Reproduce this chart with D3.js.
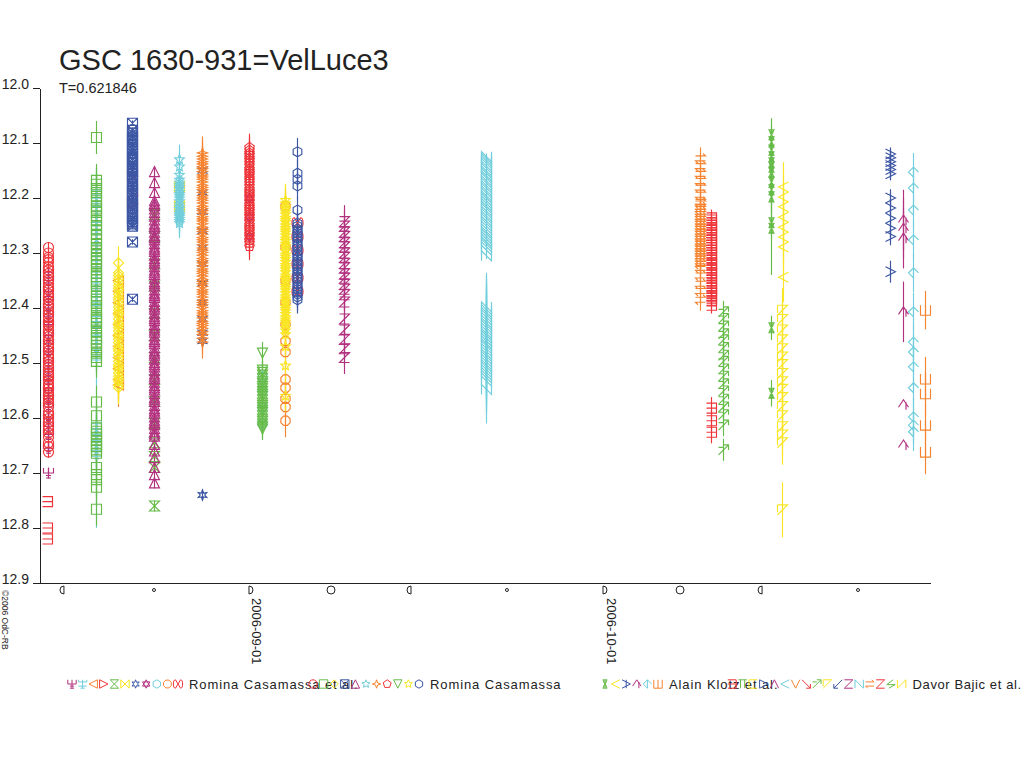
<!DOCTYPE html>
<html><head><meta charset="utf-8">
<script src="https://cdn.jsdelivr.net/npm/d3@7"></script>
<style>
body{margin:0;background:#fff}
svg text{font-family:"Liberation Sans",Arial,sans-serif;fill:#222}
</style>
</head><body>
<svg id="c" width="1024" height="768"></svg>
<script>
// ---------------- data ----------------
const titleText = "GSC 1630-931=VelLuce3";
const periodText = "T=0.621846";
const copyrightText = "\u00A92006 OdC-RB";
const yTicks = [12.0, 12.1, 12.2, 12.3, 12.4, 12.5, 12.6, 12.7, 12.8, 12.9];
const dateTicks = ["2006-09-01", "2006-10-01"];
// days after 2006-09-01 00:00 UT
const moonDays = [-16.02, -8.22, 0, 6.78, 13.39, 21.69, 30.0, 36.36, 43.14, 51.44];
const moonPhases = ["last", "new", "first", "full", "last", "new", "first", "full", "last", "new"];
const observerNames = ["Romina Casamassa et al.", "Romina Casamassa", "Alain Klotz et al.", "Davor Bajic et al."];

// each entry = list of nights: [day, error, [magnitudes]]
const romEtAlData = [
  [[-17.2, 0.01, [12.335,12.35,12.37,12.385,12.40,12.415,12.43,12.45,12.465,12.48,12.50,12.515,12.53,12.55,12.565,12.58,12.60,12.615,12.63,12.655,12.70]]],
  [[-13.12, 0.045, [12.19,12.205,12.22,12.24,12.255,12.27,12.29,12.31,12.33,12.35,12.37,12.385,12.40,12.42,12.44,12.455,12.47,12.49,12.615,12.625,12.635,12.645,12.655]], [-13.12, 0.135, [12.665]]],
  [[-11.27, 0.04, [12.35,12.37,12.39,12.41,12.43,12.45,12.47,12.49,12.51,12.53,12.54]]],
  [[-10.1, 0.01, [12.16,12.195,12.21]]],
  [[-8.2, 0.01, [12.23,12.27,12.32,12.36,12.41,12.45,12.49,12.53,12.57,12.61,12.645,12.67,12.69,12.76]]],
  [[-6.1, 0.01, [12.18,12.215]]],
  [[-4.15, 0.01, [12.15,12.19,12.225,12.26,12.29,12.32,12.355,12.39,12.42,12.445,12.46,12.74]]],
  [[-0.17, 0.01, [12.2,12.235,12.27]]],
  [[0.93, 0.01, [12.525,12.55,12.58,12.61]]],
  [[2.88, 0.03, [12.215,12.29,12.35,12.39,12.43,12.46,12.48,12.53,12.545,12.565,12.58,12.605]]],
  [[3.9, 0.01, [12.245,12.27,12.295,12.32,12.345,12.37]]]
];
const romData = [
  [[-17.2, 0.01, [12.29,12.308,12.317,12.331,12.342,12.349,12.361,12.374,12.38,12.393,12.404,12.411,12.426,12.433,12.447,12.452,12.466,12.478,12.485,12.497,12.503,12.519,12.524,12.538,12.546,12.553,12.567,12.572,12.589,12.594,12.608,12.615,12.627,12.645,12.662,
    12.30,12.312,12.325,12.337,12.355,12.367,12.386,12.398,12.418,12.43,12.44,12.459,12.471,12.49,12.508,12.514,12.531,12.541,12.559,12.563,12.58,12.601,12.62,12.635,12.652]]],
  [[-13.12, 0.03, [12.09,12.168,12.183,12.197,12.214,12.226,12.241,12.258,12.266,12.283,12.296,12.31,12.322,12.337,12.349,12.361,12.378,12.389,12.402,12.417,12.428,12.443,12.456,12.468,12.482,12.497,12.571,12.596,12.618,12.629,12.641,12.652,12.664,12.69,12.703,12.712,12.726,12.766,
    12.175,12.19,12.205,12.22,12.234,12.25,12.274,12.29,12.303,12.316,12.33,12.343,12.355,12.37,12.384,12.396,12.41,12.422,12.436,12.45,12.462,12.475,12.49,12.624,12.635,12.647,12.658]]],
  [[-11.27, 0.03, [12.318,12.336,12.347,12.359,12.368,12.381,12.392,12.404,12.413,12.427,12.436,12.448,12.457,12.469,12.478,12.491,12.503,12.512,12.524,12.533,12.545,
    12.341,12.353,12.364,12.375,12.386,12.398,12.409,12.42,12.431,12.442,12.452,12.463,12.474,12.485,12.497,12.507,12.518,12.529,12.54]]],
  [[-10.1, 0.005, [12.064,12.082,12.091,12.103,12.112,12.124,12.131,12.143,12.152,12.161,12.174,12.183,12.192,12.205,12.213,12.224,12.232,12.243,12.251,12.28,12.384,
    12.077,12.087,12.097,12.108,12.118,12.128,12.137,12.148,12.157,12.168,12.178,12.188,12.198,12.209,12.218,12.228,12.238,12.247]]],
  [[-8.2, 0.01, [12.152,12.172,12.19,12.205,12.214,12.226,12.233,12.247,12.255,12.268,12.276,12.289,12.297,12.31,12.318,12.331,12.339,12.352,12.36,12.373,12.381,12.394,12.402,12.415,12.423,12.436,12.444,12.457,12.465,12.478,12.486,12.499,12.507,12.52,12.528,12.541,12.549,12.562,12.57,12.583,12.591,12.604,12.612,12.625,12.633,12.648,12.66,12.672,12.69,12.703,12.718,
    12.21,12.22,12.24,12.251,12.262,12.272,12.283,12.293,12.304,12.314,12.325,12.335,12.346,12.356,12.367,12.377,12.388,12.398,12.409,12.419,12.43,12.44,12.451,12.461,12.472,12.482,12.493,12.503,12.514,12.524,12.535,12.545,12.556,12.566,12.577,12.587,12.598,12.608,12.619,12.629]]],
  [[-6.1, 0.027, [12.13,12.143,12.158,12.167,12.176,12.184,12.193,12.201,12.212,12.22,12.229,12.238,12.246,12.232,
    12.172,12.18,12.189,12.197,12.206,12.216,12.225,12.234,12.242]]],
  [[-4.15, 0.03, [12.118,12.129,12.138,12.147,12.158,12.166,12.177,12.185,12.196,12.204,12.215,12.223,12.234,12.242,12.253,12.261,12.272,12.28,12.291,12.299,12.31,12.318,12.329,12.337,12.348,12.356,12.367,12.375,12.386,12.394,12.405,12.413,12.424,12.432,12.443,12.455,12.462,
    12.124,12.134,12.143,12.152,12.162,12.171,12.181,12.19,12.2,12.209,12.219,12.228,12.238,12.247,12.257,12.266,12.276,12.285,12.295,12.304,12.314,12.323,12.333,12.342,12.352,12.361,12.371,12.38,12.39,12.399,12.409,12.418,12.428,12.437,12.448]]],
  [[-0.17, 0.025, [12.108,12.118,12.127,12.136,12.147,12.155,12.164,12.173,12.184,12.192,12.201,12.212,12.22,12.229,12.238,12.249,12.257,12.266,12.277,12.288,
    12.113,12.122,12.131,12.141,12.151,12.159,12.168,12.178,12.188,12.196,12.206,12.216,12.224,12.233,12.243,12.253,12.261,12.271,12.282]]],
  [[0.93, 0.02, [12.482,12.513,12.522,12.534,12.543,12.552,12.561,12.573,12.581,12.59,12.602,12.611,12.62,
    12.517,12.528,12.538,12.547,12.557,12.567,12.577,12.586,12.596,12.606,12.616]]],
  [[2.88, 0.03, [12.204,12.216,12.225,12.236,12.244,12.255,12.263,12.274,12.283,12.292,12.303,12.311,12.322,12.33,12.341,12.349,12.36,12.368,12.379,12.387,12.398,12.406,12.417,12.425,12.436,12.448,12.47,12.505,12.56,
    12.21,12.22,12.23,12.24,12.25,12.259,12.268,12.278,12.287,12.297,12.307,12.316,12.326,12.335,12.345,12.354,12.364,12.373,12.383,12.392,12.402,12.411,12.421,12.43,12.441]]],
  [[3.9, 0.025, [12.116,12.155,12.166,12.178,12.222,12.246,12.256,12.264,12.273,12.283,12.291,12.302,12.31,12.32,12.329,12.338,12.347,12.357,12.366,12.375,12.385,
    12.251,12.26,12.269,12.278,12.287,12.297,12.306,12.315,12.325,12.334,12.343,12.352,12.362,12.371,12.38]]]
];
const klotzData = [
  [[44.07, 0.03, [12.085,12.098,12.113,12.125,12.136,12.144,12.153,12.171,12.185,12.198,12.245]], [44.07, 0.085, [12.255]], [44.07, 0.022, [12.436]], [44.07, 0.024, [12.555]]],
  [[45.1, 0.045, [12.18,12.198,12.216,12.235,12.253,12.271,12.289,12.344]]],
  [[54.15, 0.012, [12.12,12.127,12.134,12.141,12.148,12.156]], [54.15, 0.016, [12.2,12.218,12.237,12.255,12.27]], [54.15, 0.02, [12.334]]],
  [[55.25, 0.055, [12.24,12.255,12.273,12.407]], [55.25, 0, [12.576,12.649]]],
  [[56.1, 0.035, [12.153,12.182,12.222,12.276,12.336,12.407,12.462,12.48,12.507,12.545,12.598,12.613,12.625]]],
  [[57.12, 0.035, [12.404]], [57.12, 0.04, [12.529,12.556,12.613,12.662]]]
];
const bajicData = [
  [[-17.25, 0, [12.752,12.80,12.82]],
   [38.98, 0.015, [12.236,12.245,12.254,12.263,12.272,12.281,12.29,12.3,12.309,12.318,12.327,12.336,12.345,12.355,12.364,12.373,12.382,12.395,
     12.24,12.25,12.258,12.268,12.277,12.286,12.295,12.304,12.313,12.322,12.331,12.34,12.35,12.36,12.369,12.378,12.387]],
   [38.98, 0.02, [12.582,12.605,12.626]]],
  [], [], [], [], [], [], [],
  [[40.0, 0.02, [12.407,12.419,12.433,12.447,12.458,12.472,12.486,12.497,12.511,12.524,12.538,12.551,12.566,12.58,12.594,12.613,12.658]]],
  [[45.0, 0.04, [12.404,12.421,12.44,12.458,12.474,12.489,12.503,12.519,12.534,12.548,12.563,12.579,12.596,12.616,12.631,12.645]], [45.0, 0.05, [12.767]]],
  [],
  [[7.88, 0.03, [12.243,12.251,12.262,12.27,12.281,12.289,12.3,12.308,12.319,12.327,12.338,12.346,12.357,12.366,12.376,12.389,12.42,12.44,12.457,12.474,12.49]]],
  [[19.92, 0.006, [12.125,12.133,12.142,12.151,12.16,12.169,12.178,12.187,12.196,12.205,12.215,12.224,12.233,12.242,12.251,12.261,12.27,12.28,12.289,12.305,
     12.129,12.137,12.146,12.155,12.164,12.173,12.182,12.191,12.2,12.21,12.219,12.228,12.237,12.246,12.256,12.265,12.275,12.284,12.295]],
   [19.92, 0.062, [12.398,12.408,12.417,12.427,12.436,12.446,12.455,12.465,12.474,12.484,12.493,12.503,12.512,12.522,12.533,12.548,
     12.403,12.412,12.422,12.431,12.441,12.45,12.46,12.469,12.479,12.488,12.498,12.507,12.517,12.527]]],
  [[38.05, 0.02, [12.128,12.142,12.156,12.169,12.181,12.194,12.207,12.216,12.225,12.234,12.243,12.252,12.261,12.27,12.279,12.288,12.297,12.306,12.315,12.327,12.341,12.356,12.369,12.385,
     12.21,12.22,12.229,12.238,12.247,12.256,12.265,12.274,12.283,12.292,12.301,12.31,12.32]]],
  [], [], []
];

// ---------------- styles ----------------
const C = {red:"#ee3338", green:"#66bb48", yellow:"#f9e522", blue:"#3c56a4", magenta:"#b2317f", cyan:"#70cddb", orange:"#f5832f"};
const groupColors = [
  [C.magenta,C.cyan,C.orange,C.red,C.green,C.yellow,C.blue,C.magenta,C.cyan,C.orange,C.red],
  [C.red,C.green,C.yellow,C.blue,C.magenta,C.cyan,C.orange,C.red,C.green,C.yellow,C.blue],
  [C.green,C.yellow,C.blue,C.magenta,C.cyan,C.orange],
  [C.red,C.green,C.yellow,C.blue,C.magenta,C.cyan,C.orange,C.red,C.green,C.yellow,C.blue,C.magenta,C.cyan,C.orange,C.red,C.green,C.yellow]
];
const groupSymbols = [
  ["trident","tridentBar","triLeft","triRight","hourglass","bowtie","asterisk","hexagram","hexagon","octagon","bowtieRound"],
  ["circle","square","diamond","squareX","triUp","star5","star4","pentagon","triDown","star5","hexagon"],
  ["eight","lt","gt","caret","ltCaret","cup"],
  ["bracketR","cap","bracketL","gtBar","lambda","lt","vee","arrowDR","arrowUR","corner","arrowDL","zed","en","harpoon","zed","bolt","enRev"]
];
const legendStart = [72, 313, 605, 732];
const legendSpacing = [0.9, 0.9, 0.9, 0.6];

function poly(n, r, rot) {
  let s = "";
  for (let i = 0; i < n; i++) {
    const a = rot + i * 2 * Math.PI / n;
    s += (i ? "L" : "M") + (r * Math.cos(a)).toFixed(2) + "," + (r * Math.sin(a)).toFixed(2);
  }
  return s + "Z";
}
function star(n, r1, r2) {
  let s = "";
  for (let i = 0; i < 2 * n; i++) {
    const a = -Math.PI / 2 + i * Math.PI / n, r = i % 2 ? r2 : r1;
    s += (i ? "L" : "M") + (r * Math.cos(a)).toFixed(2) + "," + (r * Math.sin(a)).toFixed(2);
  }
  return s + "Z";
}
function circ(cx, cy, r) {
  return `M${cx + r},${cy}A${r},${r} 0 1,1 ${cx - r},${cy}A${r},${r} 0 1,1 ${cx + r},${cy}Z`;
}
function symPath(n, r) {
  const q = r / 2;
  switch (n) {
    case "circle": return circ(0, 0, r);
    case "square": return `M${-r},${-r}H${r}V${r}H${-r}Z`;
    case "diamond": return `M0,${-r}L${r},0L0,${r}L${-r},0Z`;
    case "squareX": return `M${-r},${-r}H${r}V${r}H${-r}ZM${-r},${-r}L${r},${r}M${r},${-r}L${-r},${r}`;
    case "triUp": return `M0,${-r}L${r},${r}L${-r},${r}Z`;
    case "triDown": return `M0,${r}L${r},${-r}L${-r},${-r}Z`;
    case "triLeft": return `M${-r},0L${r},${-r}L${r},${r}Z`;
    case "triRight": return `M${r},0L${-r},${-r}L${-r},${r}Z`;
    case "hourglass": return `M${-r},${-r}H${r}L${-r},${r}H${r}Z`;
    case "bowtie": return `M${-r},${-r}V${r}L${r},${-r}V${r}Z`;
    case "asterisk": return star(6, r, r * 0.45);
    case "hexagram": return `M0,${-r}L${r * 0.87},${q}L${-r * 0.87},${q}ZM0,${r}L${r * 0.87},${-q}L${-r * 0.87},${-q}Z`;
    case "hexagon": return poly(6, r, Math.PI / 6);
    case "octagon": return poly(8, r, Math.PI / 8);
    case "pentagon": return poly(5, r, -Math.PI / 2);
    case "star5": return star(5, r, r * 0.45);
    case "star4": return star(4, r, r * 0.35);
    case "bowtieRound": return `M0,0L${-r * 0.6},${-r}A${r * 0.5},${r} 0 0,0 ${-r * 0.6},${r}ZM0,0L${r * 0.6},${-r}A${r * 0.5},${r} 0 0,1 ${r * 0.6},${r}Z`;
    case "trident": return `M${-r},${-r}V0H${r}V${-r}M0,${-r}V${r}M${-q},${r}H${q}M${-q},${q}H${q}`;
    case "tridentBar": return `M${-r},${-r}V${-q}H${r}V${-r}M0,${-r}V${r}M${-r},${q}H${r}M${-q},${r}H${q}`;
    case "eight": return `M${-q},${-r}H${q}L${-q},${r}H${q}Z` + circ(0, -q, q * 0.6) + circ(0, q, q * 0.6);
    case "lt": return `M${r},${-r}L${-r},0L${r},${r}`;
    case "gt": return `M${-r},${-r}L${r},0L${-r},${r}M0,${-r}V${r}`;
    case "caret": return `M${-r},${q}L0,${-r}L${r},${q}M${q},${-q}V${r}`;
    case "ltCaret": return `M0,${-r}L${-r},0L0,${r}M0,${-r}L${r},0M0,${-r}V${r}`;
    case "cup": return `M${-r},${-r}V${r}H${r}V${-r}M0,${-r}V${r}`;
    case "bracketR": return `M${-r},${-r}H${r}V${r}H${-r}M${-r},0H${r}`;
    case "cap": return `M${-r},${-r}H${r}M${-q},${-r}V${r}M${q},${-r}V${r}`;
    case "bracketL": return `M${r},${-r}H${-r}V${r}H${r}`;
    case "gtBar": return `M${-r},${-r}L${r},0L${-r},${r}M${-r},${-r}V${r}`;
    case "lambda": return `M${-r},${r}L0,${-r}L${r},${r}`;
    case "vee": return `M${-r},${-r}L0,${r}L${r},${-r}`;
    case "arrowDR": return `M${-r},${-r}L${r},${r}M${r},0V${r}H0`;
    case "arrowUR": return `M${-r},${r}L${r},${-r}M0,${-r}H${r}V0M${-r},${-q}H0`;
    case "corner": return `M${-r},${-r}H${r}L${-r},${r}M${-r},${-r}V${q}`;
    case "arrowDL": return `M${r},${-r}L${-r},${r}M${-r},0V${r}H0`;
    case "zed": return `M${-r},${-r}H${r}L${-r},${r}H${r}`;
    case "en": return `M${-r},${r}V${-r}L${r},${r}V${-r}`;
    case "harpoon": return `M${-r},${-q}H${r}L${q},${-r}M${r},${q}H${-r}L${-q},${r}`;
    case "bolt": return `M${q},${-r}L${-r},${q * 0.3}H${r}L${-q},${r}`;
    case "enRev": return `M${-r},${-r}V${r}L${r},${-r}V${r}`;
  }
  return circ(0, 0, r);
}

// ---------------- chart ----------------
const svg = d3.select("#c");
const base = Date.UTC(2006, 8, 1);
const toDate = d => new Date(base + d * 864e5);
const x = d3.scaleUtc().domain([toDate(-17.88), toDate(57.54)]).range([40, 930]);
const y = d3.scaleLinear().domain([12.0, 12.9]).range([88, 583]);

svg.append("rect").attr("width", 1024).attr("height", 768).attr("fill", "#fff");

// title
svg.append("text").attr("x", 59).attr("y", 70).attr("font-size", 29).text(titleText);
svg.append("text").attr("x", 59).attr("y", 93).attr("font-size", 14.5).text(periodText);

// y axis
const yAxis = svg.append("g").attr("transform", "translate(40,0)")
  .call(d3.axisLeft(y).tickValues(yTicks).tickSize(7).tickSizeOuter(0).tickFormat(d3.format(".1f")));
yAxis.attr("font-size", 14).attr("font-family", null).attr("color", "#222");
yAxis.selectAll("text").attr("x", -11).attr("dy", "0").attr("y", 0);
yAxis.selectAll("line,path").attr("shape-rendering", "crispEdges");

// x axis
const xAxis = svg.append("g").attr("transform", "translate(0,583)")
  .call(d3.axisBottom(x).tickValues(dateTicks.map(s => new Date(s + "T00:00:00Z")))
    .tickSize(0).tickSizeOuter(0).tickFormat(d3.utcFormat("%Y-%m-%d")));
xAxis.attr("font-size", 13).attr("font-family", null).attr("color", "#222");
xAxis.selectAll("text").attr("transform", "rotate(90)").attr("x", 15).attr("y", -1).attr("dy", "0").attr("text-anchor", "start");
xAxis.selectAll("path").attr("shape-rendering", "crispEdges");

// moon phase markers
const moon = svg.append("g").attr("fill", "none").attr("stroke", "#222").attr("stroke-width", 1);
moonDays.forEach((d, i) => {
  const p = moonPhases[i];
  let path;
  if (p === "full") path = circ(0, 0, 4);
  else if (p === "new") path = circ(0, 0, 1.5);
  else if (p === "last") path = "M2,-4A4,4 0 0,0 2,4Z";
  else path = "M-2,-4A4,4 0 0,1 -2,4Z";
  moon.append("path").attr("d", path).attr("transform", `translate(${x(toDate(d))},590)`);
});

// copyright
svg.append("text").attr("transform", "translate(2,590) rotate(90)").attr("font-size", 8.5).text(copyrightText);

// points
const groups = [romEtAlData, romData, klotzData, bajicData];
const pts = [];
groups.forEach((g, gi) => g.forEach((entry, ei) => entry.forEach(([d, err, mags]) =>
  mags.forEach(m => pts.push({gi, ei, d, err, m})))));

const px = p => Math.round(x(toDate(p.d))) + 0.5;
const plot = svg.append("g").attr("fill", "none").attr("stroke-width", 1.15);
plot.selectAll("line.err").data(pts.filter(p => p.err > 0)).join("line")
  .attr("class", "err")
  .attr("x1", px).attr("x2", px)
  .attr("y1", p => y(p.m - p.err)).attr("y2", p => y(p.m + p.err))
  .attr("stroke", p => groupColors[p.gi][p.ei]);
plot.selectAll("path.pt").data(pts).join("path")
  .attr("class", "pt")
  .attr("d", p => symPath(groupSymbols[p.gi][p.ei], 5))
  .attr("transform", p => `translate(${px(p)},${y(p.m)})`)
  .attr("stroke", p => groupColors[p.gi][p.ei]);

// legend
const leg = svg.append("g");
observerNames.forEach((name, gi) => {
  const sx = legendStart[gi], n = groupSymbols[gi].length;
  groupSymbols[gi].forEach((s, i) => {
    leg.append("path").attr("d", symPath(s, 4.2))
      .attr("transform", `translate(${sx + i * 10.6},684)`)
      .attr("fill", "none").attr("stroke", groupColors[gi][i]).attr("stroke-width", 1);
  });
  leg.append("text").attr("x", sx + (n - 1) * 10.6 + 11).attr("y", 689)
    .attr("font-size", 13).attr("letter-spacing", legendSpacing[gi] + "px").text(name);
});
</script>
</body></html>
